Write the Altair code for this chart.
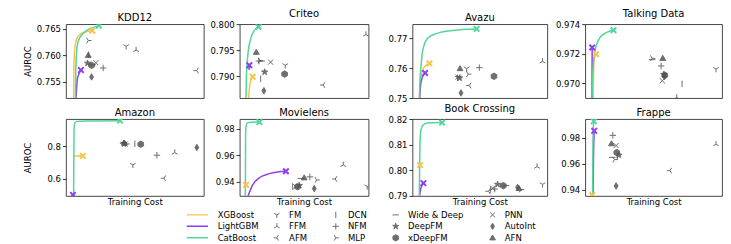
import altair as alt
import pandas as pd

FONT = "DejaVu Sans"
GRAY = "#555555"

GBDT = ["XGBoost", "LightGBM", "CatBoost"]
GBDT_COLORS = ["#F7C548", "#8E3FF2", "#52D69A"]

# legend reads column by column: 4 columns x 3 rows
NN_MODELS = ["FM", "FFM", "AFM",
             "DCN", "NFM", "MLP",
             "Wide & Deep", "DeepFM", "xDeepFM",
             "PNN", "AutoInt", "AFN"]

SHAPES = {
    "FM": "M0,0L0,1M0,0L-0.87,-0.5M0,0L0.87,-0.5",
    "FFM": "M0,0L0,-1M0,0L-0.87,0.5M0,0L0.87,0.5",
    "AFM": "M0,0L-1,0M0,0L0.5,-0.87M0,0L0.5,0.87",
    "MLP": "M0,0L1,0M0,0L-0.5,-0.87M0,0L-0.5,0.87",
    "DCN": "M0,-1L0,1",
    "NFM": "M-1,0L1,0M0,-1L0,1",
    "Wide & Deep": "M-1,0L1,0",
    "PNN": "M-0.8,-0.8L0.8,0.8M-0.8,0.8L0.8,-0.8",
    "DeepFM": "M0,-1L0.225,-0.309L0.951,-0.309L0.363,0.118L0.588,0.809L0,0.382L-0.588,0.809L-0.363,0.118L-0.951,-0.309L-0.225,-0.309Z",
    "xDeepFM": "M0,-1L0.87,-0.5L0.87,0.5L0,1L-0.87,0.5L-0.87,-0.5Z",
    "AutoInt": "M0,-1L0.6,0L0,1L-0.6,0Z",
    "AFN": "M0,-0.9L0.9,0.65L-0.9,0.65Z",
}
X_SHAPE = "M-1,-0.6L-0.6,-1L0,-0.4L0.6,-1L1,-0.6L0.4,0L1,0.6L0.6,1L0,0.4L-0.6,1L-1,0.6L-0.4,0Z"
LINE_SWATCH = "M-3.5,0L3.5,0"

DATASETS = ["KDD12", "Criteo", "Avazu", "Talking Data",
            "Amazon", "Movielens", "Book Crossing", "Frappe"]

# ---- GBDT training curves (training cost 0-100, AUROC); first point is where the curve enters the plot ----
KDD12_CURVES = {
    "XGBoost": [(5.6, 0.7519), (5.8, 0.758), (6.5, 0.7615), (8.0, 0.7632), (10.5, 0.7640), (14.0, 0.7644), (19.1, 0.76465)],
    "LightGBM": [(7.3, 0.7519), (8.3, 0.7555), (9.5, 0.7565), (10.9, 0.7572)],
    "CatBoost": [(6.9, 0.7519), (7.1, 0.756), (7.6, 0.760), (8.7, 0.7625), (11.0, 0.7637), (14.5, 0.7646), (19.0, 0.7652), (23.9, 0.7656)],
}
CRITEO_CURVES = {
    "XGBoost": [(7.0, 0.7858), (7.5, 0.7875), (8.5, 0.789), (10.1, 0.7899)],
    "LightGBM": [(7.2, 0.7912), (7.5, 0.7921)],
    "CatBoost": [(4.9, 0.7858), (5.2, 0.790), (5.8, 0.7925), (6.5, 0.7945), (8.0, 0.7967), (10.6, 0.7985), (14.7, 0.7995)],
}
AVAZU_CURVES = {
    "XGBoost": [(5.1, 0.750), (5.6, 0.755), (6.8, 0.7585), (9.0, 0.7605), (12.6, 0.7616)],
    "LightGBM": [(5.4, 0.750), (6.0, 0.754), (7.3, 0.757), (9.4, 0.7584)],
    "CatBoost": [(5.2, 0.750), (5.6, 0.756), (6.4, 0.7608), (7.6, 0.766), (11.3, 0.7701), (17.5, 0.7716), (29.9, 0.7727), (47.6, 0.7732)],
}
TALKING_CURVES = {
    "XGBoost": [(5.9, 0.969), (6.0, 0.970), (6.6, 0.9716), (8.0, 0.97196)],
    "LightGBM": [(4.95, 0.969), (5.0, 0.970), (5.1, 0.97242)],
    "CatBoost": [(5.05, 0.969), (5.1, 0.9695), (5.6, 0.97075), (6.8, 0.9720), (9.3, 0.97284), (12.9, 0.97329), (20.7, 0.97359)],
}
AMAZON_CURVES = {
    "XGBoost": [(5.8, 0.738), (7.0, 0.740), (12.3, 0.741)],
    "LightGBM": [(4.8, 0.496), (5.1, 0.502)],
    "CatBoost": [(5.6, 0.496), (5.7, 0.70), (5.9, 0.90), (6.3, 0.94), (8.0, 0.952), (15.0, 0.955), (39.3, 0.9565)],
}
MOVIELENS_CURVES = {
    "XGBoost": [(4.6, 0.936), (4.9, 0.9378)],
    "LightGBM": [(6.5, 0.9295), (10.1, 0.9378), (15.3, 0.9431), (23.0, 0.9462), (29.5, 0.9475), (35.9, 0.9480)],
    "CatBoost": [(4.4, 0.9295), (4.5, 0.950), (4.6, 0.975), (5.0, 0.982), (6.2, 0.9845), (9.0, 0.9848), (15.3, 0.9849)],
}
BOOK_CURVES = {
    "XGBoost": [(5.4, 0.8015), (5.7, 0.802)],
    "LightGBM": [(5.3, 0.790), (6.0, 0.7925), (7.0, 0.794), (8.1, 0.795)],
    "CatBoost": [(5.1, 0.790), (5.3, 0.800), (5.6, 0.810), (6.2, 0.8155), (7.6, 0.8175), (11.0, 0.8184), (22.0, 0.8186)],
}
FRAPPE_CURVES = {
    "XGBoost": [(4.8, 0.9353), (5.1, 0.936)],
    "LightGBM": [(5.75, 0.9353), (6.0, 0.960), (6.6, 0.9855)],
    "CatBoost": [(5.45, 0.9353), (5.5, 0.950), (5.7, 0.980), (6.3, 0.9929)],
}

# ---- neural models (training cost, AUROC) ----
KDD12_MODELS = {
    "FM": (43.7, 0.7617), "FFM": (50.9, 0.7610), "AFM": (94.9, 0.7571), "MLP": (16.2, 0.7628),
    "DCN": (16.5, 0.7601), "NFM": (27.0, 0.7576), "Wide & Deep": (19.5, 0.7582), "DeepFM": (15.7, 0.7585),
    "xDeepFM": (18.6, 0.7581), "PNN": (21.7, 0.7586), "AutoInt": (18.6, 0.7559), "AFN": (16.2, 0.7600),
}
CRITEO_MODELS = {
    "FM": (35.4, 0.7921), "FFM": (98.0, 0.7980), "AFM": (64.9, 0.7883), "MLP": (15.5, 0.7930),
    "DCN": (16.3, 0.7895), "NFM": (15.0, 0.7929), "Wide & Deep": (17.0, 0.7929), "DeepFM": (19.4, 0.7908),
    "xDeepFM": (34.9, 0.7904), "PNN": (24.0, 0.7927), "AutoInt": (18.8, 0.7872), "AFN": (12.9, 0.7946),
}
AVAZU_MODELS = {
    "FM": (40.2, 0.7599), "FFM": (96.5, 0.7623), "AFM": (42.2, 0.7542), "MLP": (41.3, 0.7580),
    "DCN": (33.5, 0.7568), "NFM": (49.6, 0.7602), "Wide & Deep": (34.0, 0.7572), "DeepFM": (35.0, 0.7567),
    "xDeepFM": (60.5, 0.7573), "PNN": (33.8, 0.7570), "AutoInt": (36.0, 0.7517), "AFN": (35.3, 0.7599),
}
TALKING_MODELS = {
    "FM": (95.6, 0.97096), "FFM": (66.9, 0.96904), "MLP": (48.9, 0.97169),
    "DCN": (70.8, 0.96996), "NFM": (55.5, 0.97117), "Wide & Deep": (48.9, 0.97160), "DeepFM": (57.5, 0.97060),
    "xDeepFM": (58.2, 0.97054), "PNN": (56.4, 0.97017), "AutoInt": (57.9, 0.97045), "AFN": (56.7, 0.97169),
}
AMAZON_MODELS = {
    "FM": (48.6, 0.686), "FFM": (79.0, 0.761), "AFM": (71.2, 0.604), "MLP": (44.0, 0.814),
    "DCN": (50.0, 0.815), "NFM": (66.0, 0.745), "Wide & Deep": (41.5, 0.818), "DeepFM": (42.0, 0.817),
    "xDeepFM": (54.3, 0.812), "PNN": (43.0, 0.813), "AutoInt": (95.0, 0.792), "AFN": (42.5, 0.820),
}
MOVIELENS_MODELS = {
    "FM": (99.0, 0.9366), "FFM": (80.4, 0.9527), "AFM": (74.2, 0.9422), "MLP": (59.7, 0.9415),
    "DCN": (41.1, 0.9366), "NFM": (54.5, 0.9438), "Wide & Deep": (47.5, 0.9426), "DeepFM": (46.3, 0.9373),
    "xDeepFM": (44.9, 0.9364), "PNN": (43.6, 0.9364), "AutoInt": (57.9, 0.9350), "AFN": (50.1, 0.9431),
}
BOOK_MODELS = {
    "FM": (96.5, 0.7945), "FFM": (92.4, 0.8014), "AFM": (56.5, 0.7918), "MLP": (80.5, 0.7925),
    "DCN": (58.0, 0.7924), "NFM": (61.0, 0.7927), "Wide & Deep": (69.5, 0.7940), "DeepFM": (63.2, 0.7945),
    "xDeepFM": (67.4, 0.7940), "PNN": (59.5, 0.7930), "AutoInt": (78.0, 0.7933), "AFN": (79.0, 0.7929),
}
FRAPPE_MODELS = {
    "FFM": (95.6, 0.9751), "AFM": (62.0, 0.9548), "MLP": (21.4, 0.9633),
    "DCN": (23.5, 0.9655), "NFM": (20.2, 0.9820), "Wide & Deep": (19.7, 0.9650), "DeepFM": (24.6, 0.9667),
    "xDeepFM": (23.1, 0.9687), "PNN": (22.6, 0.9741), "AutoInt": (22.6, 0.9430), "AFN": (19.2, 0.9756),
}

Y_DOMAINS = {
    "KDD12": [0.7519, 0.7659], "Criteo": [0.7858, 0.8000], "Avazu": [0.7500, 0.7748],
    "Talking Data": [0.9690, 0.9740], "Amazon": [0.496, 0.9665], "Movielens": [0.9295, 0.9872],
    "Book Crossing": [0.790, 0.820], "Frappe": [0.9353, 0.9946],
}
Y_TICKS = {
    "KDD12": [0.755, 0.760, 0.765], "Criteo": [0.790, 0.795, 0.800], "Avazu": [0.75, 0.76, 0.77],
    "Talking Data": [0.970, 0.972, 0.974], "Amazon": [0.6, 0.8], "Movielens": [0.94, 0.96, 0.98],
    "Book Crossing": [0.79, 0.80, 0.81, 0.82], "Frappe": [0.94, 0.96, 0.98],
}
Y_FORMATS = {
    "KDD12": ".3f", "Criteo": ".3f", "Avazu": ".2f", "Talking Data": ".3f",
    "Amazon": ".1f", "Movielens": ".2f", "Book Crossing": ".2f", "Frappe": ".2f",
}

CURVES = [KDD12_CURVES, CRITEO_CURVES, AVAZU_CURVES, TALKING_CURVES,
          AMAZON_CURVES, MOVIELENS_CURVES, BOOK_CURVES, FRAPPE_CURVES]
MODELS = [KDD12_MODELS, CRITEO_MODELS, AVAZU_MODELS, TALKING_MODELS,
          AMAZON_MODELS, MOVIELENS_MODELS, BOOK_MODELS, FRAPPE_MODELS]

COL_WIDTHS = [138, 129, 135, 137]
AXIS_EXTENTS = [30, 30, 38, 32]
ROW_HEIGHTS = [74, 77]

COLOR_LEGEND = alt.Legend(
    title=None, orient="none", legendX=121, legendY=186, padding=0,
    symbolType=LINE_SWATCH, symbolSize=81, symbolStrokeWidth=1.5, clipHeight=10,
    labelFontSize=8.5, labelFont=FONT, rowPadding=1.5, labelOffset=20,
)
SHAPE_LEGEND = alt.Legend(
    title=None, orient="none", legendX=207, legendY=186, padding=0,
    columns=4, columnPadding=24, rowPadding=1.5, clipHeight=10,
    symbolSize=40, symbolStrokeWidth=1,
    labelOffset=8, labelFontSize=8.5, labelFont=FONT,
)


def panel(idx):
    name = DATASETS[idx]
    col, row = idx % 4, idx // 4
    curves, models = CURVES[idx], MODELS[idx]
    curve_df = pd.DataFrame([
        {"model": m, "step": i, "cost": x, "auroc": y}
        for m, pts in curves.items() for i, (x, y) in enumerate(pts)
    ])
    end_df = pd.DataFrame([
        {"model": m, "cost": pts[-1][0], "auroc": pts[-1][1]} for m, pts in curves.items()
    ])
    nn_df = pd.DataFrame([
        {"model": m, "cost": v[0], "auroc": v[1]} for m, v in models.items()
    ])

    if row == 1:
        x_axis = alt.Axis(labels=False, ticks=False, domain=False, grid=False,
                          title="Training Cost", titlePadding=2)
    else:
        x_axis = None
    y_axis = alt.Axis(values=Y_TICKS[name], format=Y_FORMATS[name], grid=False,
                      domain=False, tickSize=3.5, labelPadding=2,
                      minExtent=AXIS_EXTENTS[col], maxExtent=AXIS_EXTENTS[col],
                      title="AUROC" if col == 0 else None, titlePadding=3)
    x = alt.X("cost:Q", scale=alt.Scale(domain=[0, 100], nice=False, zero=False), axis=x_axis)
    y = alt.Y("auroc:Q", scale=alt.Scale(domain=Y_DOMAINS[name], nice=False, zero=False), axis=y_axis)

    lines = alt.Chart(curve_df).mark_line(clip=True, strokeWidth=1.5, interpolate="monotone").encode(
        x=x, y=y,
        color=alt.Color("model:N", scale=alt.Scale(domain=GBDT, range=GBDT_COLORS), legend=COLOR_LEGEND),
        order="step:Q",
    )
    ends = alt.Chart(end_df).mark_point(shape=X_SHAPE, filled=True, size=48, clip=True, opacity=1).encode(
        x=x, y=y,
        fill=alt.Fill("model:N", scale=alt.Scale(domain=GBDT, range=GBDT_COLORS), legend=None),
    )
    nn = alt.Chart(nn_df).mark_point(filled=True, fill=GRAY, stroke=GRAY, strokeWidth=1,
                                     size=42, opacity=0.85, clip=True).encode(
        x=x, y=y,
        shape=alt.Shape("model:N",
                        scale=alt.Scale(domain=NN_MODELS, range=[SHAPES[m] for m in NN_MODELS]),
                        legend=SHAPE_LEGEND),
    )
    return alt.layer(lines, ends, nn).properties(
        width=COL_WIDTHS[col], height=ROW_HEIGHTS[row],
        title=alt.Title(name, fontSize=10, font=FONT, fontWeight="normal", offset=1, color="black"),
    )


row1 = alt.hconcat(*[panel(i) for i in range(4)], spacing=4)
row2 = alt.hconcat(*[panel(i) for i in range(4, 8)], spacing=4)

chart = alt.vconcat(row1, row2, spacing=0).properties(
    padding={"left": 15, "top": 0, "right": 0, "bottom": 0},
).configure_view(
    stroke="#333333", strokeWidth=0.9,
).configure_axis(
    labelFont=FONT, titleFont=FONT, labelFontSize=8.5, titleFontSize=8.5,
    titleFontWeight="normal", labelColor="black", titleColor="black", tickColor="#333333",
).configure_legend(
    labelColor="black",
)

chart.save("out.html", embed_options={"renderer": "svg", "actions": False})
